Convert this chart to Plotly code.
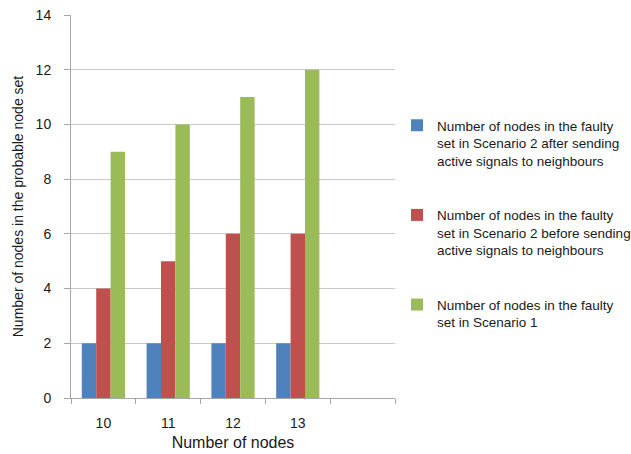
import plotly.graph_objects as go

# Number of nodes in the network (x categories)
node_counts = ["10", "11", "12", "13"]

# Faulty-set sizes per scenario
after_signals = [2, 2, 2, 2]
before_signals = [4, 5, 6, 6]
scenario_1 = [9, 10, 11, 12]

series_names = [
    "Number of nodes in the faulty<br>set in Scenario 2 after sending<br>active signals to neighbours",
    "Number of nodes in the faulty<br>set in Scenario 2 before sending<br>active signals to neighbours",
    "Number of nodes in the faulty<br>set in Scenario 1",
]
series_values = [after_signals, before_signals, scenario_1]
series_colors = ["#4F81BD", "#C0504D", "#9BBB59"]

positions = list(range(len(node_counts)))

fig = go.Figure()
for i, (name, vals, col) in enumerate(zip(series_names, series_values, series_colors)):
    fig.add_trace(go.Bar(
        x=positions, y=vals, name=name,
        marker=dict(color=col, line=dict(width=0)),
        legendgroup=f"g{i}",
    ))

# invisible trace on the overlay axis that carries the boundary tick marks
fig.add_trace(go.Scatter(x=[-0.5], y=[0], xaxis="x2", mode="markers",
                         marker=dict(opacity=0), showlegend=False, hoverinfo="skip"))

axis_grey = "#A6A6A6"
font_family = "Liberation Sans, Arial, sans-serif"

fig.update_layout(
    width=631, height=454,
    margin=dict(l=71, r=236, t=15, b=56, autoexpand=False),
    paper_bgcolor="white", plot_bgcolor="white",
    font=dict(family=font_family, size=14, color="#1A1A1A"),
    barmode="group", bargap=0.333, bargroupgap=0,
    xaxis=dict(
        range=[-0.5, 4.5], tickmode="array", tickvals=positions, ticktext=node_counts,
        ticks="", showgrid=False, showline=True, linecolor=axis_grey, linewidth=1,
        zeroline=False, fixedrange=True, ticklabelstandoff=12,
        title=dict(text="Number of nodes", font=dict(size=16), standoff=7),
        tickfont=dict(size=14),
    ),
    xaxis2=dict(
        overlaying="x", range=[-0.5, 4.5], tickmode="array",
        tickvals=[-0.5, 0.5, 1.5, 2.5, 3.5, 4.5],
        ticks="outside", ticklen=5, tickcolor=axis_grey, showticklabels=False,
        showgrid=False, showline=False, zeroline=False, side="bottom", anchor="y",
    ),
    yaxis=dict(
        range=[0, 14], dtick=2, tick0=0,
        showgrid=True, gridcolor="#C8C8C8", gridwidth=1,
        showline=True, linecolor=axis_grey, linewidth=1,
        ticks="outside", ticklen=6, tickcolor=axis_grey, ticklabelstandoff=10,
        zeroline=False, tickfont=dict(size=14),
        title=dict(text="Number of nodes in the probable node set", font=dict(size=14), standoff=8),
    ),
    legend=dict(
        x=1.0062, xanchor="left", y=0.752, yanchor="top",
        font=dict(size=13.5), valign="top",
        tracegroupgap=34, traceorder="grouped",
        bgcolor="rgba(0,0,0,0)",
    ),
)

fig.write_html("out.html")
